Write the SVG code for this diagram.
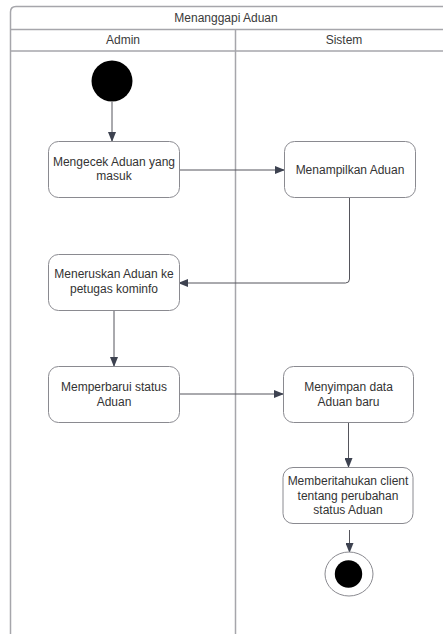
<svg xmlns="http://www.w3.org/2000/svg" width="443" height="634" viewBox="0 0 443 634">
<style>
.lane{fill:none;stroke:#a6a6ab;stroke-width:1.5}
.box{fill:#fff;stroke:#8a8a90;stroke-width:1}
.t{font-family:"Liberation Sans",Arial,sans-serif;font-size:12px;fill:#333;text-anchor:middle}
.h{font-family:"Liberation Sans",Arial,sans-serif;font-size:12px;fill:#3a3a3a;text-anchor:middle}
.c{fill:none;stroke:#55555c;stroke-width:1}
</style>
<defs>
<marker id="ar" markerWidth="10" markerHeight="8" refX="9" refY="4" orient="auto" markerUnits="userSpaceOnUse">
<path d="M0,0 L10,4 L0,8 Z" fill="#3d4250"/>
</marker>
</defs>
<rect width="443" height="634" fill="#fff"/>
<g id="swimlanes">
<path class="lane" d="M450,6.5 H16 Q10.5,6.5 10.5,12 V640"/>
<line class="lane" x1="10.5" y1="29.5" x2="450" y2="29.5"/>
<line class="lane" x1="10.5" y1="51" x2="450" y2="51"/>
<line class="lane" x1="235.5" y1="29.5" x2="235.5" y2="640"/>
<text class="h" x="226" y="22">Menanggapi Aduan</text>
<text class="h" x="123" y="44">Admin</text>
<text class="h" x="344" y="44">Sistem</text>
</g>
<g id="connectors">
<line class="c" x1="112" y1="102" x2="112" y2="141" marker-end="url(#ar)"/>
<line class="c" x1="179" y1="170" x2="284" y2="170" marker-end="url(#ar)"/>
<path class="c" d="M349.5,198 V279 Q349.5,283 345.5,283 H179" marker-end="url(#ar)"/>
<line class="c" x1="114" y1="310" x2="114" y2="366" marker-end="url(#ar)"/>
<line class="c" x1="179" y1="394" x2="283" y2="394" marker-end="url(#ar)"/>
<line class="c" x1="348.5" y1="423" x2="348.5" y2="467" marker-end="url(#ar)"/>
<line class="c" x1="349.5" y1="530" x2="349.5" y2="552" marker-end="url(#ar)"/>
</g>
<g id="start"><circle cx="112" cy="81" r="20.5" fill="#000"/></g>
<g id="n1">
<rect class="box" x="48.5" y="141.5" width="131" height="56" rx="10"/>
<text class="t" x="114" y="166">Mengecek Aduan yang</text>
<text class="t" x="114" y="180">masuk</text>
</g>
<g id="n2">
<rect class="box" x="284.5" y="141.5" width="131" height="56" rx="10"/>
<text class="t" x="350" y="173.5">Menampilkan Aduan</text>
</g>
<g id="n3">
<rect class="box" x="48.5" y="254.5" width="131" height="56" rx="10"/>
<text class="t" x="114" y="278">Meneruskan Aduan ke</text>
<text class="t" x="114" y="292.5">petugas kominfo</text>
</g>
<g id="n4">
<rect class="box" x="48.5" y="366.5" width="131" height="56" rx="10"/>
<text class="t" x="114" y="391">Memperbarui status</text>
<text class="t" x="114" y="405.5">Aduan</text>
</g>
<g id="n5">
<rect class="box" x="283.5" y="366.5" width="130" height="56" rx="10"/>
<text class="t" x="348.5" y="390.5">Menyimpan data</text>
<text class="t" x="348.5" y="405.5">Aduan baru</text>
</g>
<g id="n6">
<rect class="box" x="283" y="467.5" width="130" height="56" rx="10"/>
<text class="t" x="348" y="485">Memberitahukan client</text>
<text class="t" x="348" y="499.5">tentang perubahan</text>
<text class="t" x="348" y="514">status Aduan</text>
</g>
<g id="end">
<ellipse cx="349" cy="574" rx="24" ry="22" fill="#fff" stroke="#8a8a90" stroke-width="1"/>
<circle cx="348.5" cy="574" r="13.7" fill="#000"/>
</g>
</svg>
